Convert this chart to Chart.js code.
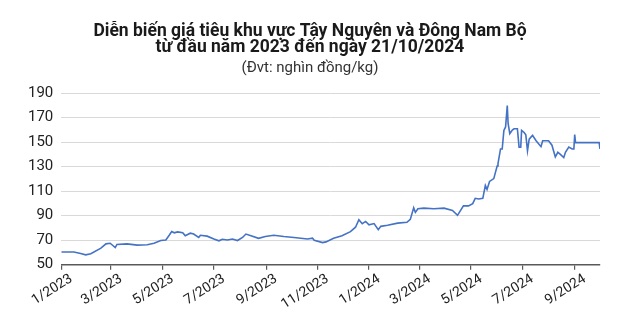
<!DOCTYPE html>
<html>
<head>
<meta charset="utf-8">
<script src="https://cdn.jsdelivr.net/npm/chart.js@4.4.1/dist/chart.umd.min.js"></script>
<style>
  html, body { margin: 0; padding: 0; background: #fff; }
  #wrap { width: 620px; height: 323px; }
</style>
</head>
<body>
<div id="wrap"><canvas id="chart"></canvas></div>
<script>
const dates = [
  '2023-01-01', '2023-01-16', '2023-01-24', '2023-01-30', '2023-02-05', '2023-02-17', '2023-02-23', '2023-02-28',
  '2023-03-06', '2023-03-08', '2023-03-20', '2023-04-01', '2023-04-13', '2023-04-21', '2023-04-29', '2023-05-05',
  '2023-05-09', '2023-05-12', '2023-05-15', '2023-05-19', '2023-05-25', '2023-05-28', '2023-06-03', '2023-06-07',
  '2023-06-13', '2023-06-15', '2023-06-23', '2023-07-01', '2023-07-07', '2023-07-11', '2023-07-17', '2023-07-23',
  '2023-07-29', '2023-08-04', '2023-08-08', '2023-08-14', '2023-08-23', '2023-08-31', '2023-09-10', '2023-09-22',
  '2023-10-04', '2023-10-20', '2023-10-26', '2023-10-28', '2023-11-07', '2023-11-11', '2023-11-20', '2023-11-30',
  '2023-12-10', '2023-12-16', '2023-12-20', '2023-12-24', '2023-12-28', '2024-01-01', '2024-01-07', '2024-01-12',
  '2024-01-15', '2024-01-23', '2024-02-04', '2024-02-15', '2024-02-19', '2024-02-23', '2024-02-25', '2024-02-28',
  '2024-03-06', '2024-03-18', '2024-03-30', '2024-04-09', '2024-04-15', '2024-04-22', '2024-04-28', '2024-05-03',
  '2024-05-06', '2024-05-10', '2024-05-15', '2024-05-18', '2024-05-20', '2024-05-23', '2024-05-28', '2024-06-01',
  '2024-06-02', '2024-06-05', '2024-06-07', '2024-06-09', '2024-06-11', '2024-06-13', '2024-06-14', '2024-06-16',
  '2024-06-19', '2024-06-21', '2024-06-25', '2024-06-27', '2024-06-29', '2024-06-30', '2024-07-03', '2024-07-05',
  '2024-07-07', '2024-07-09', '2024-07-13', '2024-07-17', '2024-07-23', '2024-07-25', '2024-08-01', '2024-08-05',
  '2024-08-09', '2024-08-12', '2024-08-15', '2024-08-19', '2024-08-21', '2024-08-25', '2024-08-29', '2024-08-31',
  '2024-09-01', '2024-09-02', '2024-09-30', '2024-10-01'
]
const prices = [
  60.3, 60.3, 59.2, 58, 59, 63.5, 67, 67.5,
  64, 66.5, 67, 66, 66.3, 67.5, 69.7, 70.2,
  74, 77, 76, 76.8, 76, 73.7, 75.7, 75,
  72.2, 74, 73.3, 71, 69.5, 70.8, 70.2, 71,
  69.7, 72.2, 75, 73.6, 71.5, 73, 74, 73,
  72.2, 71, 71.6, 70, 68, 68.6, 71.6, 73.6,
  77, 80.6, 86.7, 83.5, 85.3, 82.6, 83.6, 78.6,
  81.3, 82.2, 83.9, 84.6, 87, 96.4, 92.7, 95.7,
  96.2, 95.7, 96.2, 94.3, 90.3, 98, 98, 99.8,
  104.2, 103.7, 104.2, 114.7, 111.5, 118, 120.3, 130.6,
  132.6, 144.5, 144.5, 159.7, 162.5, 180, 165.3, 157,
  160, 161, 161, 146, 146, 159.7, 158, 156,
  143, 152.5, 155.7, 151.4, 146.4, 151.2, 151.2, 147.6,
  138, 141.8, 140, 137.5, 141.8, 146, 144.5, 144.5,
  156.2, 149.7, 149.7, 144.5
]
const tickDates = ['2023-01-01', '2023-03-01', '2023-05-01', '2023-07-01', '2023-09-01', '2023-11-01',
  '2024-01-01', '2024-03-01', '2024-05-01', '2024-07-01', '2024-09-01']
const tickLabels = ['1/2023', '3/2023', '5/2023', '7/2023', '9/2023', '11/2023',
  '1/2024', '3/2024', '5/2024', '7/2024', '9/2024']
const endDate = '2024-10-01'

const start = Date.UTC(2023, 0, 1)
function dayOf(s) {
  return Math.round((new Date(s + 'T00:00:00Z').getTime() - start) / 86400000)
}

const points = dates.map((d, i) => ({ x: dayOf(d), y: prices[i] }))
const tickDays = tickDates.map(dayOf)

const ctx = document.getElementById('chart').getContext('2d')
const chart = new Chart(ctx, {
  type: 'line',
  data: {
    datasets: [{
      data: points,
      borderColor: '#4472c4',
      borderWidth: 1.6,
      pointRadius: 0,
      tension: 0,
      fill: false
    }]
  },
  options: {
    responsive: true,
    maintainAspectRatio: false,
    animation: false,
    layout: { padding: { left: 20, right: 20, top: 0, bottom: 9 } },
    plugins: {
      legend: { display: false },
      tooltip: { enabled: false },
      title: {
        display: true,
        text: ['Diễn biến giá tiêu khu vực Tây Nguyên và Đông Nam Bộ', 'từ đầu năm 2023 đến ngày 21/10/2024'],
        font: { family: 'Roboto', size: 17.5, weight: 'bold', lineHeight: 0.95 },
        color: '#1a1a1a',
        padding: { top: 23, bottom: 3 }
      },
      subtitle: {
        display: true,
        text: '(Đvt: nghìn đồng/kg)',
        font: { family: 'Roboto', size: 15, lineHeight: 1.2 },
        color: '#333',
        padding: { top: 0, bottom: 16 }
      }
    },
    scales: {
      x: {
        type: 'linear',
        min: 0,
        max: dayOf(endDate),
        afterBuildTicks: (axis) => {
          axis.ticks = tickDays.map(v => ({ value: v }))
        },
        ticks: {
          autoSkip: false,
          minRotation: 32,
          maxRotation: 32,
          color: '#222',
          font: { family: 'Roboto', size: 14 },
          padding: 1,
          labelOffset: 10,
          callback: (v) => tickLabels[tickDays.indexOf(v)]
        },
        grid: { drawOnChartArea: false, drawTicks: true, tickLength: 5, color: '#595959', lineWidth: 1.2 },
        border: { display: true, color: '#595959', width: 1.5 }
      },
      y: {
        min: 50,
        max: 190,
        ticks: {
          stepSize: 20,
          color: '#222',
          font: { family: 'Roboto', size: 15 },
          padding: 8
        },
        grid: { color: '#d9d9d9', drawTicks: false, lineWidth: 1 },
        border: { display: false }
      }
    }
  }
})
</script>
</body>
</html>
